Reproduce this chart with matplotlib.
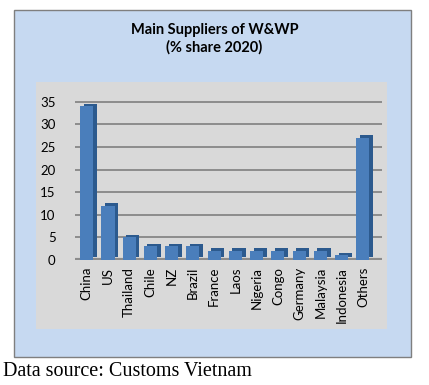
import matplotlib.pyplot as plt
from matplotlib.patches import Rectangle
import numpy as np

# data
countries = ['China', 'US', 'Thailand', 'Chile', 'NZ', 'Brazil', 'France', 'Laos',
             'Nigeria', 'Congo', 'Germany', 'Malaysia', 'Indonesia', 'Others']
share = [34, 12, 5, 3, 3, 3, 2, 2, 2, 2, 2, 2, 1, 27]
yticks = [0, 5, 10, 15, 20, 25, 30, 35]

plt.rcParams['font.family'] = ['Lato', 'DejaVu Sans']

fig = plt.figure(figsize=(4.29, 3.85), dpi=100)
fig.patch.set_facecolor('white')

# blue chart box and grey plot area
fig.patches.append(Rectangle((14/429, 1-357/385), 397/429, 347/385, transform=fig.transFigure,
                             facecolor='#c6d9f1', edgecolor='#7f7f7f', lw=1, zorder=-2))
fig.patches.append(Rectangle((36/429, 1-329/385), 351/429, 247/385, transform=fig.transFigure,
                             facecolor='#d9d9d9', edgecolor='none', zorder=-1))

ax = fig.add_axes([75/429, 1-260/385, 307/429, 160/385])
ax.set_facecolor('none')
x = np.arange(len(countries))
w = 0.62
# fake 3D depth
ax.bar(x + 0.17, share, w, bottom=0.6, color='#2c5a8e', zorder=2)
ax.bar(x, share, w, color='#4a7ebb', zorder=3)

ax.set_xlim(-0.55, 13.9)
ax.set_ylim(0, 35.4)
ax.set_yticks(yticks)
ax.set_yticklabels([str(t) for t in yticks], fontsize=9.5)
ax.set_xticks(x)
ax.set_xticklabels(countries, rotation=90, fontsize=9.5)
ax.tick_params(length=0, pad=5)
ax.tick_params(axis='y', pad=14)
for t in yticks:
    ax.axhline(t, color='#8c8c8c', lw=1.4 if t else 3, zorder=1)
for s in ax.spines.values():
    s.set_visible(False)

fig.text(0.5, 1-30/385, 'Main Suppliers of W&WP', ha='center', va='center',
         fontsize=10.5, fontweight='bold')
fig.text(0.5, 1-47/385, '(% share 2020)', ha='center', va='center',
         fontsize=10.5, fontweight='bold')
fig.text(3/429, 1-371/385, 'Data source: Customs Vietnam', ha='left', va='center',
         fontsize=14.5, family='Liberation Serif')

plt.savefig('out.png', format='png', dpi=100)
